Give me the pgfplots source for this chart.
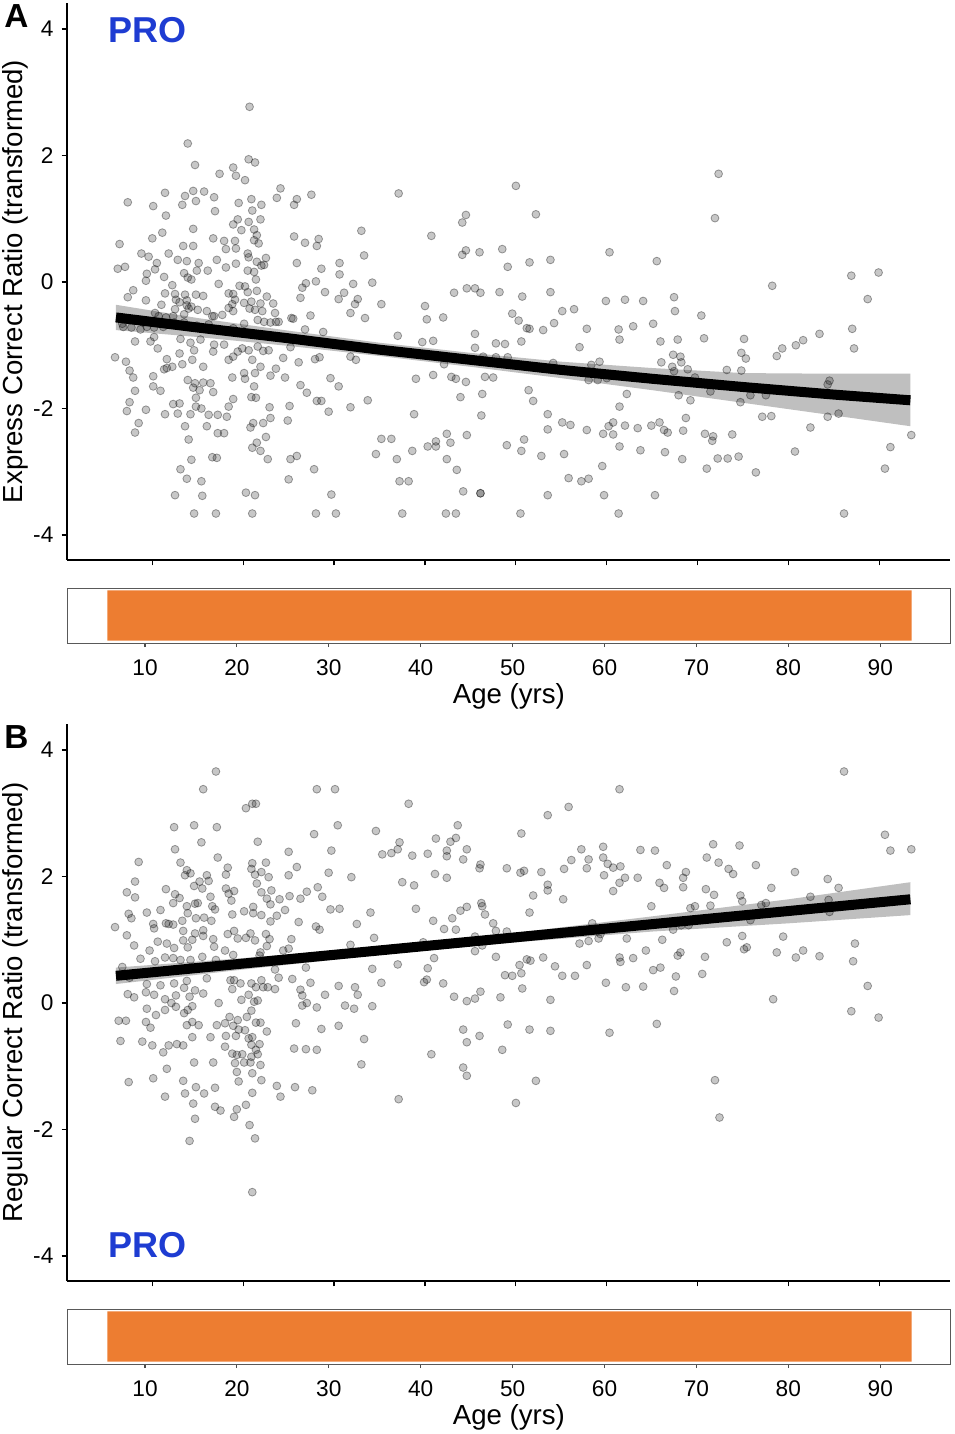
\documentclass[border=0pt]{standalone}
\usepackage{pgfplots}
\pgfplotsset{compat=1.18}
\usepackage{pgfplotstable}
\usepackage{fontspec}
\setmainfont{Liberation Sans}
\definecolor{ora}{RGB}{237,125,49}
\definecolor{problue}{RGB}{30,60,210}

\pgfplotstableread{
x y
13.9 2.19
14.7 1.85
20.6 1.94
21.3 1.89
18.9 1.81
19.2 1.68
20.2 1.61
17.4 1.71
24.1 1.48
11.4 1.41
14.5 1.44
15.7 1.43
13.6 1.36
16.8 1.34
7.3 1.26
10.1 1.20
13.3 1.22
14.8 1.28
19.5 1.25
20.9 1.31
22.0 1.22
23.7 1.33
25.6 1.22
25.9 1.31
27.5 1.38
11.5 1.05
16.9 1.12
21.0 1.13
21.9 0.99
19.4 0.99
18.9 0.91
19.8 0.82
20.6 0.95
21.2 0.83
14.5 0.84
11.1 0.78
10.0 0.69
6.4 0.60
13.4 0.57
14.5 0.57
16.7 0.69
17.9 0.65
19.1 0.65
21.5 0.74
21.2 0.66
21.7 0.61
25.6 0.72
26.8 0.62
28.3 0.68
28.1 0.57
33.0 0.81
33.3 0.42
8.8 0.45
9.6 0.40
11.8 0.45
12.8 0.35
13.8 0.33
15.1 0.30
17.1 0.35
18.1 0.52
19.2 0.53
20.6 0.39
20.5 0.45
21.5 0.32
22.5 0.38
22.0 0.26
6.2 0.21
7.0 0.24
9.4 0.13
10.3 0.20
9.3 0.02
11.3 0.08
10.5 0.30
13.5 0.14
13.9 0.07
14.3 0.04
14.9 0.18
16.1 0.18
18.1 0.23
19.2 0.29
20.5 0.18
21.2 0.16
21.4 0.04
22.3 0.27
25.9 0.30
28.6 0.21
30.6 0.30
30.6 0.12
28.0 0.01
32.1 -0.03
7.3 -0.24
7.9 -0.13
9.3 -0.29
11.4 -0.18
12.2 -0.05
12.5 -0.19
12.6 -0.28
13.6 -0.20
13.8 -0.29
14.8 -0.20
15.6 -0.22
17.3 -0.03
18.4 -0.18
18.9 -0.19
19.1 -0.28
19.6 -0.06
20.2 -0.07
20.5 -0.16
21.5 -0.14
22.6 -0.23
26.5 -0.09
26.3 -0.25
26.9 -0.02
29.0 -0.16
30.5 -0.27
31.1 -0.17
32.6 -0.27
32.3 -0.35
27.4 -0.53
25.3 -0.57
23.3 -0.34
23.5 -0.49
20.9 -0.31
20.1 -0.33
20.7 -0.42
21.3 -0.44
21.9 -0.34
22.1 -0.46
23.0 -0.64
23.9 -0.63
18.8 -0.35
18.9 -0.46
18.4 -0.41
17.7 -0.52
16.8 -0.54
16.0 -0.46
16.6 -0.54
15.0 -0.44
13.8 -0.37
13.0 -0.32
12.5 -0.43
12.3 -0.54
13.5 -0.51
14.0 -0.42
14.3 -0.39
11.0 -0.36
10.3 -0.49
10.7 -0.54
11.5 -0.56
6.8 -0.71
8.7 -0.75
9.4 -0.71
7.7 -0.72
9.0 -0.64
10.2 -0.72
11.2 -0.71
12.4 -0.64
13.5 -0.64
14.9 -0.69
16.2 -0.67
17.1 -0.75
18.9 -0.73
20.1 -0.66
21.6 -0.60
22.3 -0.63
23.6 -0.63
25.5 -0.58
26.8 -0.75
28.8 -0.79
31.8 -0.49
33.4 -0.57
6.7 -0.66
5.9 -1.19
8.1 -0.94
9.8 -0.94
10.2 -0.87
10.6 -1.05
11.6 -1.22
11.6 -1.36
11.3 -1.38
12.2 -1.34
13.0 -1.13
13.1 -0.90
13.3 -1.30
14.2 -0.96
14.4 -1.23
14.6 -1.08
15.3 -0.91
15.6 -1.34
16.7 -1.10
16.8 -0.99
17.9 -0.99
18.4 -1.23
18.9 -1.18
19.4 -1.10
19.9 -1.05
20.6 -1.08
21.0 -1.23
21.3 -1.44
21.6 -1.02
21.9 -1.34
22.2 -1.09
22.8 -1.08
23.0 -1.48
23.6 -1.37
24.4 -1.20
24.6 -1.51
25.2 -1.03
26.1 -1.27
26.3 -1.63
27.0 -1.75
27.9 -1.22
28.4 -1.19
29.6 -1.52
30.5 -1.65
31.8 -1.18
32.4 -1.23
33.7 -1.87
31.8 -1.98
29.4 -2.05
28.1 -1.88
28.6 -1.88
25.1 -1.96
24.9 -2.19
22.9 -1.98
23.0 -2.15
22.2 -2.23
21.1 -2.23
20.8 -2.30
21.5 -2.54
21.0 -2.62
21.9 -2.67
22.7 -2.80
22.5 -2.45
21.2 -1.65
21.4 -1.83
20.9 -1.82
20.1 -1.44
20.2 -1.53
18.8 -1.51
18.9 -1.85
18.4 -1.97
18.2 -2.13
17.9 -2.39
17.2 -2.39
16.0 -2.28
16.2 -2.10
17.2 -2.10
16.7 -1.74
16.4 -1.60
15.6 -1.59
15.2 -1.71
14.8 -1.83
14.7 -1.60
13.9 -1.55
14.5 -1.67
14.8 -1.97
15.4 -2.00
14.2 -2.09
13.6 -2.28
14.0 -2.49
12.8 -2.08
12.3 -1.93
13.0 -1.92
11.4 -2.09
10.1 -1.65
10.9 -1.72
10.1 -1.49
9.3 -2.02
8.5 -2.23
8.1 -2.38
7.2 -2.04
7.5 -1.90
8.1 -1.72
7.9 -1.51
7.5 -1.40
7.1 -1.26
14.3 -2.81
16.6 -2.77
17.1 -2.78
13.1 -2.96
13.8 -3.11
15.4 -3.15
12.5 -3.37
15.5 -3.38
20.3 -3.33
21.3 -3.37
25.0 -3.12
25.2 -2.80
25.9 -2.75
27.8 -2.96
29.7 -3.36
14.6 -3.66
17.0 -3.66
21.0 -3.66
28.0 -3.66
30.2 -3.66
20.7 2.77
50.0 1.52
37.1 1.40
44.5 1.06
44.1 0.94
52.2 1.07
40.7 0.73
44.5 0.50
44.1 0.43
46.0 0.47
48.5 0.52
49.1 0.24
51.5 0.31
53.8 0.35
60.3 0.47
65.5 0.33
34.2 -0.01
43.2 -0.17
44.6 -0.10
45.5 -0.10
46.1 -0.17
48.2 -0.16
50.7 -0.23
53.8 -0.16
35.2 -0.35
40.0 -0.38
40.2 -0.59
42.0 -0.56
49.6 -0.50
50.3 -0.61
51.2 -0.73
51.5 -0.74
53.0 -0.76
54.2 -0.65
55.1 -0.46
56.4 -0.43
59.9 -0.30
62.0 -0.28
64.0 -0.30
57.8 -0.74
61.3 -0.75
61.4 -0.91
62.9 -0.70
65.1 -0.66
65.9 -0.94
37.0 -0.85
39.7 -0.95
40.9 -0.93
45.5 -0.82
45.5 -1.04
47.8 -0.97
48.8 -0.98
50.6 -0.94
49.1 -1.19
47.8 -1.19
46.4 -1.18
57.0 -1.03
54.1 -1.28
59.2 -1.26
58.3 -1.31
66.0 -1.27
42.1 -1.30
39.0 -1.53
40.9 -1.47
42.9 -1.50
43.4 -1.53
44.5 -1.58
46.6 -1.50
47.5 -1.51
58.0 -1.55
59.0 -1.55
60.0 -1.52
43.9 -1.82
46.3 -1.77
51.4 -1.71
51.9 -1.88
62.2 -1.77
61.4 -1.97
38.8 -2.09
46.2 -2.11
53.5 -2.09
55.1 -2.22
56.0 -2.26
53.5 -2.33
57.8 -2.34
59.6 -2.40
60.2 -2.28
60.7 -2.22
60.7 -2.41
62.0 -2.27
63.4 -2.31
64.9 -2.27
65.8 -2.22
66.3 -2.34
35.2 -2.48
36.3 -2.48
34.6 -2.72
36.9 -2.80
38.6 -2.67
40.3 -2.60
41.2 -2.52
41.2 -2.60
42.4 -2.40
42.8 -2.54
44.6 -2.42
42.4 -2.80
43.5 -2.97
49.0 -2.58
50.9 -2.49
50.6 -2.67
52.8 -2.75
55.3 -2.72
59.5 -2.91
61.4 -2.60
63.7 -2.66
66.4 -2.69
37.2 -3.15
38.2 -3.15
55.8 -3.10
57.2 -3.15
58.0 -3.11
44.2 -3.31
46.1 -3.34
46.1 -3.34
53.5 -3.37
59.7 -3.37
65.3 -3.37
37.5 -3.66
42.3 -3.66
43.4 -3.66
50.5 -3.66
61.3 -3.66
72.3 1.71
71.9 1.01
78.2 -0.06
86.9 0.10
89.9 0.15
88.7 -0.27
67.4 -0.24
67.5 -0.46
70.4 -0.53
67.8 -0.91
70.7 -0.89
75.1 -0.90
83.4 -0.82
81.6 -0.92
80.8 -1.00
79.3 -1.05
78.7 -1.17
87.0 -0.74
87.2 -1.05
74.8 -1.12
75.3 -1.21
67.3 -1.15
68.1 -1.18
68.2 -1.27
67.2 -1.34
67.4 -1.41
68.9 -1.38
69.7 -1.51
73.2 -1.39
74.8 -1.40
84.5 -1.56
84.3 -1.62
67.9 -1.79
69.2 -1.87
71.4 -1.73
74.7 -1.90
75.8 -1.79
77.5 -1.79
68.7 -2.15
77.1 -2.13
78.1 -2.12
82.4 -2.30
84.3 -2.13
85.5 -2.08
66.7 -2.38
68.4 -2.35
70.8 -2.40
71.7 -2.44
71.6 -2.51
73.8 -2.41
68.3 -2.80
71.0 -2.95
72.2 -2.79
73.3 -2.79
74.5 -2.76
76.4 -3.01
80.7 -2.68
93.5 -2.42
91.2 -2.61
90.6 -2.95
86.1 -3.66
}\dataA

\pgfplotstableread{
x y
17.0 3.66
15.6 3.38
28.1 3.38
30.1 3.38
20.3 3.08
21.0 3.15
21.4 3.15
12.4 2.78
14.6 2.81
17.1 2.78
30.4 2.81
27.8 2.67
15.4 2.54
21.6 2.55
12.5 2.43
25.0 2.39
29.7 2.41
8.5 2.23
13.1 2.22
17.2 2.30
21.0 2.21
22.5 2.22
13.8 2.10
13.6 2.02
14.2 2.05
16.0 2.02
18.1 2.03
18.3 2.14
20.9 2.12
21.3 2.03
22.0 2.07
22.8 1.99
25.0 2.02
25.9 2.15
29.4 2.06
31.9 1.99
8.1 1.92
7.2 1.75
8.1 1.67
11.5 1.80
12.5 1.72
12.3 1.58
13.0 1.66
14.6 1.85
15.2 1.92
15.5 1.81
16.2 1.93
16.4 1.68
15.0 1.58
13.8 1.53
14.7 1.57
16.6 1.53
16.9 1.48
18.1 1.81
18.4 1.73
19.0 1.77
18.7 1.62
21.5 1.89
22.0 1.75
23.1 1.78
22.6 1.65
23.0 1.56
24.0 1.64
25.1 1.69
26.3 1.65
27.0 1.76
28.2 1.83
28.7 1.68
29.6 1.48
30.6 1.49
7.4 1.41
7.7 1.34
9.4 1.43
10.9 1.47
10.1 1.25
10.2 1.18
11.5 1.26
11.8 1.25
12.3 1.24
13.3 1.30
13.9 1.42
14.8 1.34
15.7 1.35
16.5 1.30
15.6 1.15
18.8 1.40
20.1 1.45
21.1 1.52
21.1 1.42
22.0 1.39
23.0 1.29
23.7 1.38
24.6 1.47
26.1 1.28
28.0 1.21
28.4 1.16
32.5 1.25
5.9 1.20
7.2 1.07
8.0 0.91
9.7 0.83
10.6 0.97
11.6 0.94
12.4 0.87
13.4 1.14
13.4 0.99
13.9 0.88
14.4 1.00
14.7 1.10
15.6 1.06
16.7 1.01
16.8 0.89
18.0 0.83
18.3 1.09
19.0 1.14
19.4 1.02
20.3 1.03
20.8 1.10
21.3 0.99
21.9 0.80
22.5 1.09
22.9 1.01
22.6 0.90
24.4 0.83
25.0 0.86
25.3 1.01
31.8 0.92
8.7 0.70
10.3 0.66
11.4 0.72
12.3 0.71
13.1 0.68
14.2 0.68
15.5 0.73
17.0 0.68
18.9 0.76
21.8 0.75
23.5 0.53
23.9 0.40
25.4 0.38
26.9 0.56
27.4 0.32
6.7 0.57
7.5 0.40
9.4 0.30
9.3 0.17
10.9 0.28
10.2 0.13
11.4 0.06
12.4 0.31
12.6 0.12
13.5 0.24
13.8 0.35
14.1 0.10
14.7 0.20
15.6 0.15
16.0 0.39
17.3 0.00
18.6 0.36
18.8 0.22
19.0 0.36
19.7 0.31
19.8 0.05
20.6 0.13
20.9 0.31
21.4 0.25
21.6 0.04
22.0 0.36
22.2 0.25
22.7 0.25
23.5 0.22
26.3 0.21
26.5 0.12
26.5 -0.04
27.0 0.00
28.1 -0.07
29.0 0.13
30.5 0.27
31.2 -0.04
32.3 0.25
32.6 0.13
32.2 -0.09
7.3 0.14
8.0 0.09
6.3 -0.28
7.1 -0.28
6.5 -0.60
8.9 -0.61
9.4 -0.09
9.3 -0.30
9.8 -0.39
10.4 -0.19
10.0 -0.67
11.2 -0.78
11.4 -0.11
11.8 -0.67
12.7 -0.65
13.4 -0.67
12.1 0.00
12.6 -0.06
13.5 -0.16
13.9 -0.11
14.4 -0.05
13.8 -0.35
14.4 -0.30
15.1 -0.35
14.4 -0.54
14.6 -0.94
16.4 -0.54
16.7 -0.94
17.1 -0.35
18.0 -0.32
18.1 -0.52
18.0 -0.69
18.5 -0.22
18.9 -0.36
19.2 -0.52
19.4 -0.27
19.5 -0.42
20.2 -0.43
20.4 -0.22
20.6 -0.56
21.0 -0.54
20.9 -0.66
21.8 -0.65
21.4 -0.31
21.9 -0.31
22.6 -0.45
20.9 -0.12
21.2 0.02
18.8 -0.80
19.3 -0.82
19.9 -0.81
21.4 -0.74
21.6 -0.81
20.9 -0.85
19.1 -0.95
20.1 -0.94
20.8 -0.94
21.9 -0.98
19.3 -1.09
19.5 -1.24
21.0 -1.11
22.0 -1.22
25.8 -0.32
25.6 -0.72
26.9 -0.73
28.1 -0.74
28.6 -0.41
30.5 -0.36
33.3 -0.57
33.0 -0.97
7.4 -1.25
10.1 -1.19
11.6 -1.04
11.4 -1.48
13.4 -1.23
13.6 -1.43
14.5 -1.59
14.8 -1.33
15.7 -1.43
16.9 -1.34
16.9 -1.64
17.5 -1.70
19.3 -1.68
19.0 -1.80
20.3 -1.61
21.0 -1.42
23.7 -1.31
24.1 -1.48
25.7 -1.33
27.6 -1.38
14.7 -1.83
20.7 -1.93
14.1 -2.18
21.3 -2.14
21.0 -2.99
61.4 3.38
38.2 3.15
55.8 3.10
53.5 2.97
34.6 2.72
43.6 2.81
50.6 2.68
37.2 2.54
37.0 2.43
36.3 2.37
35.3 2.35
38.6 2.33
40.3 2.36
41.2 2.60
42.4 2.41
42.4 2.32
42.8 2.55
43.4 2.61
44.6 2.43
44.2 2.27
46.1 2.19
46.0 2.13
49.0 2.13
50.5 2.06
50.9 2.09
52.8 2.07
55.3 2.12
56.1 2.26
57.2 2.43
58.0 2.27
57.8 2.13
59.6 2.47
59.6 2.30
60.1 2.20
60.7 2.14
61.5 2.16
63.7 2.42
65.3 2.41
66.6 2.18
37.5 1.91
38.8 1.86
41.1 2.04
42.4 1.98
53.5 1.87
53.5 1.78
51.9 1.70
55.2 1.64
59.7 2.02
62.0 1.98
61.4 1.90
60.7 1.77
63.4 1.98
65.8 1.90
66.3 1.82
64.9 1.53
34.0 1.43
39.0 1.49
40.9 1.30
42.1 1.17
43.0 1.34
43.4 1.16
43.9 1.46
44.6 1.52
46.2 1.58
46.3 1.53
46.6 1.40
47.5 1.26
47.8 1.14
49.0 1.13
51.5 1.43
34.4 1.03
39.8 0.96
45.5 1.05
45.5 0.82
46.3 0.91
57.0 0.94
58.0 0.98
58.4 1.26
59.1 1.02
59.3 1.09
62.2 1.02
66.1 1.00
37.0 0.61
34.2 0.54
41.0 0.71
40.3 0.55
35.2 0.32
39.9 0.33
40.2 0.37
42.0 0.31
47.8 0.73
50.4 0.60
51.2 0.69
51.6 0.67
53.0 0.72
54.3 0.58
48.8 0.44
49.6 0.43
50.6 0.47
50.7 0.23
55.1 0.43
56.5 0.43
57.8 0.60
61.4 0.72
61.5 0.65
62.9 0.71
64.3 0.83
65.1 0.52
65.9 0.56
59.9 0.32
62.1 0.25
64.0 0.26
43.2 0.10
44.6 0.03
45.5 0.07
46.1 0.18
48.3 0.09
53.8 0.05
34.2 -0.05
44.2 -0.42
44.6 -0.62
46.0 -0.52
49.1 -0.34
51.5 -0.42
53.8 -0.44
60.3 -0.47
65.5 -0.33
40.7 -0.81
48.5 -0.74
44.2 -1.02
44.6 -1.15
52.2 -1.23
37.1 -1.52
50.0 -1.58
86.1 3.66
90.6 2.66
91.2 2.41
93.5 2.43
71.7 2.51
74.6 2.49
71.0 2.30
72.3 2.22
73.4 2.12
73.9 2.04
76.4 2.18
68.7 2.07
68.4 1.98
80.7 2.07
84.3 1.96
68.4 1.83
70.9 1.80
71.8 1.71
78.1 1.82
85.5 1.82
74.7 1.70
74.9 1.61
82.4 1.68
84.4 1.63
84.5 1.44
69.2 1.50
69.7 1.53
71.4 1.54
77.0 1.55
77.5 1.58
75.8 1.31
67.3 1.16
68.2 1.23
69.0 1.23
73.2 0.96
74.9 1.06
75.1 0.85
75.4 0.88
79.4 1.05
67.8 0.75
68.1 0.80
70.8 0.73
78.7 0.80
80.8 0.72
81.6 0.83
83.4 0.74
87.3 0.94
87.1 0.66
67.6 0.42
70.5 0.46
67.4 0.19
88.7 0.27
78.3 0.06
86.9 -0.13
89.9 -0.23
71.9 -1.22
72.4 -1.81
}\dataB

\pgfplotsset{
  mainax/.style={
    scale only axis, width=662.25pt, height=417.75pt,
    xmin=0.616, xmax=97.76, ymin=-4.395, ymax=4.411,
    axis lines=left, axis line style={-, line width=1pt, black},
    xtick={10,20,30,40,50,60,70,80,90}, xticklabels={},
    ytick={-4,-2,0,2,4}, yticklabels={-4,-2,0,2,4},
    tick align=outside, major tick length=4pt,
    tick style={line width=0.9pt, black},
    yticklabel style={anchor=east, inner sep=0pt, xshift=-6pt, font=\fontsize{17}{20}\selectfont},
    ylabel style={at={(axis description cs:-0.0583,0.5)}, anchor=center, inner sep=0pt, font=\fontsize{20.7}{24}\selectfont},
    clip=true,
  },
  barax/.style={
    scale only axis, width=662.8pt, height=41.25pt,
    xmin=1.51, xmax=97.67, ymin=0, ymax=1,
    axis line style={line width=0.75pt, black!65},
    ytick=\empty, xtick={10,20,30,40,50,60,70,80,90},
    xticklabels={10,20,30,40,50,60,70,80,90},
    xtick pos=lower, tick align=outside, major tick length=3pt,
    tick style={line width=0.8pt, black!70},
    xticklabel style={anchor=base, inner sep=0pt, yshift=-21.5pt, font=\fontsize{17}{20}\selectfont},
    xlabel={Age (yrs)},
    xlabel style={at={(axis description cs:0.5,-1.0909)}, anchor=base, inner sep=0pt, font=\fontsize{20.7}{24}\selectfont},
  },
  pts/.style={only marks, mark=*, mark size=2.95pt,
    mark options={fill=black, fill opacity=0.22, draw=black, draw opacity=0.36, line width=0.6pt}},
}

\begin{document}
\begin{tikzpicture}
\path[use as bounding box] (0,0) rectangle (716.25pt,-1075.5pt);

% ---------- Panel A ----------
\begin{axis}[mainax, at={(50.25pt,-420pt)}, anchor=south west,
  ylabel={Express Correct Ratio (transformed)}]
\addplot[pts] table {\dataA};
\addplot[fill=black, fill opacity=0.25, draw=none] coordinates {
 (6,-0.36) (15,-0.57) (25,-0.77) (35,-0.96) (45,-1.12) (55,-1.26) (65,-1.36) (75,-1.44) (85,-1.45) (93.4,-1.45)
 (93.4,-2.28) (85,-2.11) (75,-1.91) (65,-1.71) (55,-1.52) (45,-1.34) (35,-1.17) (25,-1.01) (15,-0.87) (6,-0.76) (6,-0.36)};
\addplot[black, line width=7.5pt] coordinates {
 (6,-0.56) (15,-0.72) (25,-0.89) (35,-1.07) (45,-1.23) (55,-1.39) (65,-1.53) (75,-1.66) (85,-1.78) (93.4,-1.87)};
\node[anchor=base west, inner sep=0pt, text=problue, font=\bfseries\fontsize{27}{30}\selectfont] at (axis cs:5.13,3.78) {PRO};
\end{axis}

\begin{axis}[barax, at={(50.25pt,-482.25pt)}, anchor=south west]
\addplot[fill=ora, draw=none] coordinates {(5.9,0.045) (93.4,0.045) (93.4,0.955) (5.9,0.955) (5.9,0.045)};
\end{axis}

% ---------- Panel B ----------
\begin{axis}[mainax, at={(50.25pt,-960.75pt)}, anchor=south west,
  ylabel={Regular Correct Ratio (transformed)}]
\addplot[pts] table {\dataB};
\addplot[fill=black, fill opacity=0.25, draw=none] coordinates {
 (6,0.56) (20,0.71) (35,0.89) (50,1.11) (65,1.37) (80,1.64) (93.4,1.91)
 (93.4,1.39) (80,1.26) (65,1.13) (50,0.96) (35,0.76) (20,0.53) (6,0.30) (6,0.56)};
\addplot[black, line width=7.5pt] coordinates {(6,0.43) (93.4,1.64)};
\node[anchor=base west, inner sep=0pt, text=problue, font=\bfseries\fontsize{27}{30}\selectfont] at (axis cs:5.13,-4.03) {PRO};
\end{axis}

\begin{axis}[barax, at={(50.25pt,-1023pt)}, anchor=south west]
\addplot[fill=ora, draw=none] coordinates {(5.9,0.045) (93.4,0.045) (93.4,0.955) (5.9,0.955) (5.9,0.045)};
\end{axis}

\node[anchor=base west, inner sep=0pt, font=\bfseries\fontsize{25}{28}\selectfont] at (3pt,-21pt) {A};
\node[anchor=base west, inner sep=0pt, font=\bfseries\fontsize{25}{28}\selectfont] at (3pt,-561pt) {B};
\end{tikzpicture}
\end{document}
